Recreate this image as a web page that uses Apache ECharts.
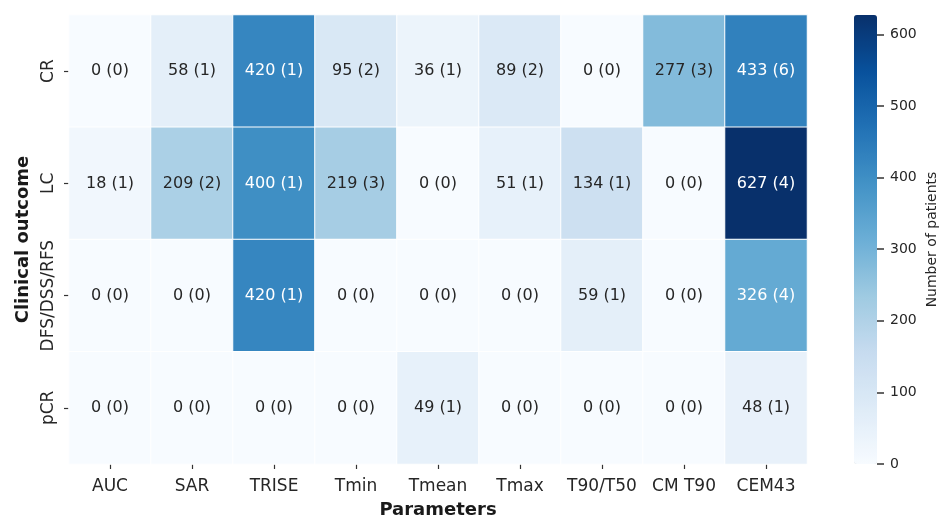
<!DOCTYPE html>
<html><head><meta charset="utf-8">
<script src="https://cdn.jsdelivr.net/npm/echarts@6/dist/echarts.min.js"></script>
<style>html,body{margin:0;padding:0;background:#fff}#c{width:940px;height:518px}</style>
</head><body><div id="c"></div>
<script>
const parameters = ['AUC','SAR','TRISE','Tmin','Tmean','Tmax','T90/T50','CM T90','CEM43'];
const outcomes = ['CR','LC','DFS/DSS/RFS','pCR'];
const patientsCR   = [0, 58, 420, 95, 36, 89, 0, 277, 433];
const studiesCR    = [0, 1, 1, 2, 1, 2, 0, 3, 6];
const patientsLC   = [18, 209, 400, 219, 0, 51, 134, 0, 627];
const studiesLC    = [1, 2, 1, 3, 0, 1, 1, 0, 4];
const patientsDFS  = [0, 0, 420, 0, 0, 0, 59, 0, 326];
const studiesDFS   = [0, 0, 1, 0, 0, 0, 1, 0, 4];
const patientsPCR  = [0, 0, 0, 0, 49, 0, 0, 0, 48];
const studiesPCR   = [0, 0, 0, 0, 1, 0, 0, 0, 1];
const colorbarTicks = [0, 100, 200, 300, 400, 500, 600];

const patientRows = [patientsCR, patientsLC, patientsDFS, patientsPCR];
const studyRows = [studiesCR, studiesLC, studiesDFS, studiesPCR];
const vmax = 627;
const blues = ['#f7fbff','#deebf7','#c6dbef','#9ecae1','#6baed6','#4292c6','#2171b5','#08519c','#08306b'];

const data = [];
patientRows.forEach((row, r) => row.forEach((v, c) => {
  data.push({
    value: [c, r, v, studyRows[r][c]],
    label: { color: v > 300 ? '#ffffff' : '#262626' }
  });
}));

const font = 'DejaVu Sans';
const chart = echarts.init(document.getElementById('c'));
chart.setOption({
  animation: false,
  textStyle: { fontFamily: font },
  grid: [
    { left: 69, top: 15, width: 738, height: 449, outerBoundsMode: 'none', containLabel: false },
    { left: 854, top: 15, width: 23, height: 449, outerBoundsMode: 'none', containLabel: false }
  ],
  xAxis: [
    { type: 'category', data: parameters, gridIndex: 0,
      axisLine: { show: false },
      axisTick: { show: true, alignWithLabel: true, length: 5, lineStyle: { color: '#333', width: 1.2 } },
      axisLabel: { color: '#262626', fontSize: 17, margin: 14, interval: 0, fontFamily: font },
      splitLine: { show: false },
      name: 'Parameters', nameLocation: 'middle', nameGap: 37,
      nameTextStyle: { fontWeight: 'bold', fontSize: 18, color: '#1a1a1a', fontFamily: font } },
    { type: 'value', gridIndex: 1, show: false, min: 0, max: 1 }
  ],
  yAxis: [
    { type: 'category', data: outcomes, gridIndex: 0, inverse: true,
      axisLine: { show: false },
      axisTick: { show: true, alignWithLabel: true, length: 5, lineStyle: { color: '#333', width: 1.2 } },
      axisLabel: { color: '#262626', fontSize: 17, margin: 12, rotate: 90, interval: 0, fontFamily: font },
      splitLine: { show: false },
      name: 'Clinical outcome', nameLocation: 'middle', nameGap: 37, nameRotate: 90,
      nameTextStyle: { fontWeight: 'bold', fontSize: 18, color: '#1a1a1a', fontFamily: font } },
    { type: 'value', gridIndex: 1, position: 'right', min: 0, max: vmax,
      axisLine: { show: false, onZero: false },
      axisTick: { show: true, inside: false, length: 7, customValues: colorbarTicks,
        lineStyle: { color: '#333', width: 1.5 } },
      axisLabel: { show: true, color: '#262626', fontSize: 14, margin: 13, fontFamily: font,
        customValues: colorbarTicks },
      splitLine: { show: false }, z: 10,
      name: 'Number of patients', nameLocation: 'middle', nameGap: 48, nameRotate: 90,
      nameTextStyle: { fontSize: 14, color: '#262626', fontFamily: font } }
  ],
  visualMap: {
    type: 'continuous', min: 0, max: vmax, seriesIndex: 0, dimension: 2,
    calculable: false, orient: 'vertical', left: 854, top: 15,
    itemWidth: 23, itemHeight: 449, padding: 0, text: null, showLabel: false,
    inRange: { color: blues }
  },
  series: [
    { type: 'heatmap', xAxisIndex: 0, yAxisIndex: 0, data: data,
      itemStyle: { borderColor: '#ffffff', borderWidth: 1 },
      label: { show: true, fontSize: 16, fontFamily: font,
        formatter: p => p.value[2] + ' (' + p.value[3] + ')' },
      emphasis: { disabled: true } },
    { type: 'scatter', xAxisIndex: 1, yAxisIndex: 1, data: [], silent: true }
  ]
});
</script></body></html>
